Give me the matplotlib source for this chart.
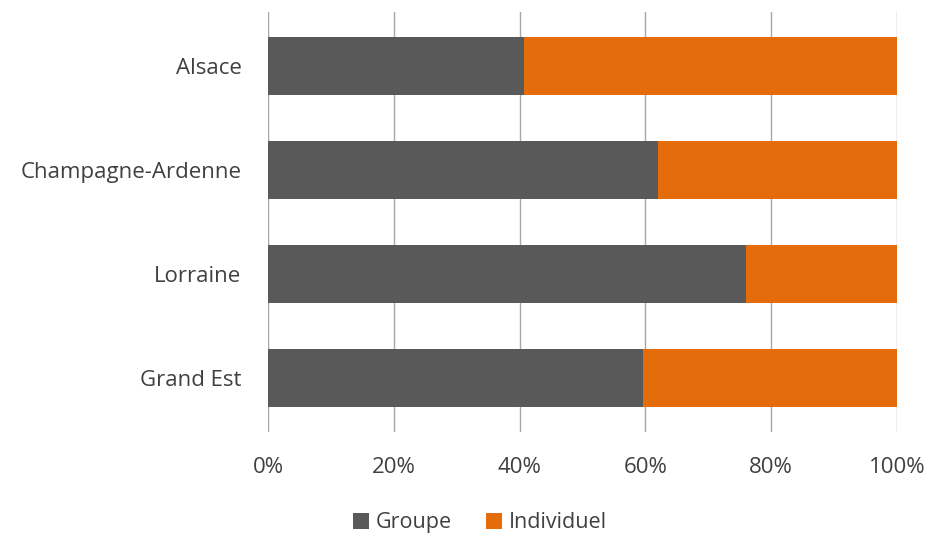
import matplotlib
matplotlib.use("Agg")
import matplotlib.pyplot as plt
from matplotlib.ticker import PercentFormatter

regions = ["Alsace", "Champagne-Ardenne", "Lorraine", "Grand Est"]
groupe = [40.7, 62.0, 76.0, 59.6]
individuel = [100 - g for g in groupe]
xticks = [0, 20, 40, 60, 80, 100]

plt.rcParams['font.family'] = ['Open Sans', 'DejaVu Sans']

fig = plt.figure(figsize=(9.41, 5.34), dpi=100)
ax = fig.add_axes([0.2848, 0.191, 0.6684, 0.7865])

y = list(range(len(regions)))
ax.barh(y, groupe, height=0.56, color='#595959', label='Groupe', zorder=2)
ax.barh(y, individuel, left=groupe, height=0.56, color='#E46C0A',
        label='Individuel', zorder=2)

ax.set_ylim(3.52, -0.52)
ax.set_xlim(0, 100)
ax.set_yticks(y)
ax.set_yticklabels(regions, fontsize=16.5)
ax.set_xticks(xticks)
ax.xaxis.set_major_formatter(PercentFormatter(decimals=0))
ax.grid(axis='x', color='#A6A6A6', linewidth=1, zorder=0)
for s in ax.spines.values():
    s.set_visible(False)
ax.tick_params(length=0, labelsize=16, colors='#404040')
ax.tick_params(axis='y', pad=19)
ax.tick_params(axis='x', pad=18)

fig.legend(loc='lower center', bbox_to_anchor=(0.51, -0.035), ncol=2, frameon=False,
           fontsize=15.5, handlelength=0.75, handleheight=0.75, columnspacing=1.6,
           handletextpad=0.3, labelcolor='#404040')

fig.savefig("out.png", dpi=100)
